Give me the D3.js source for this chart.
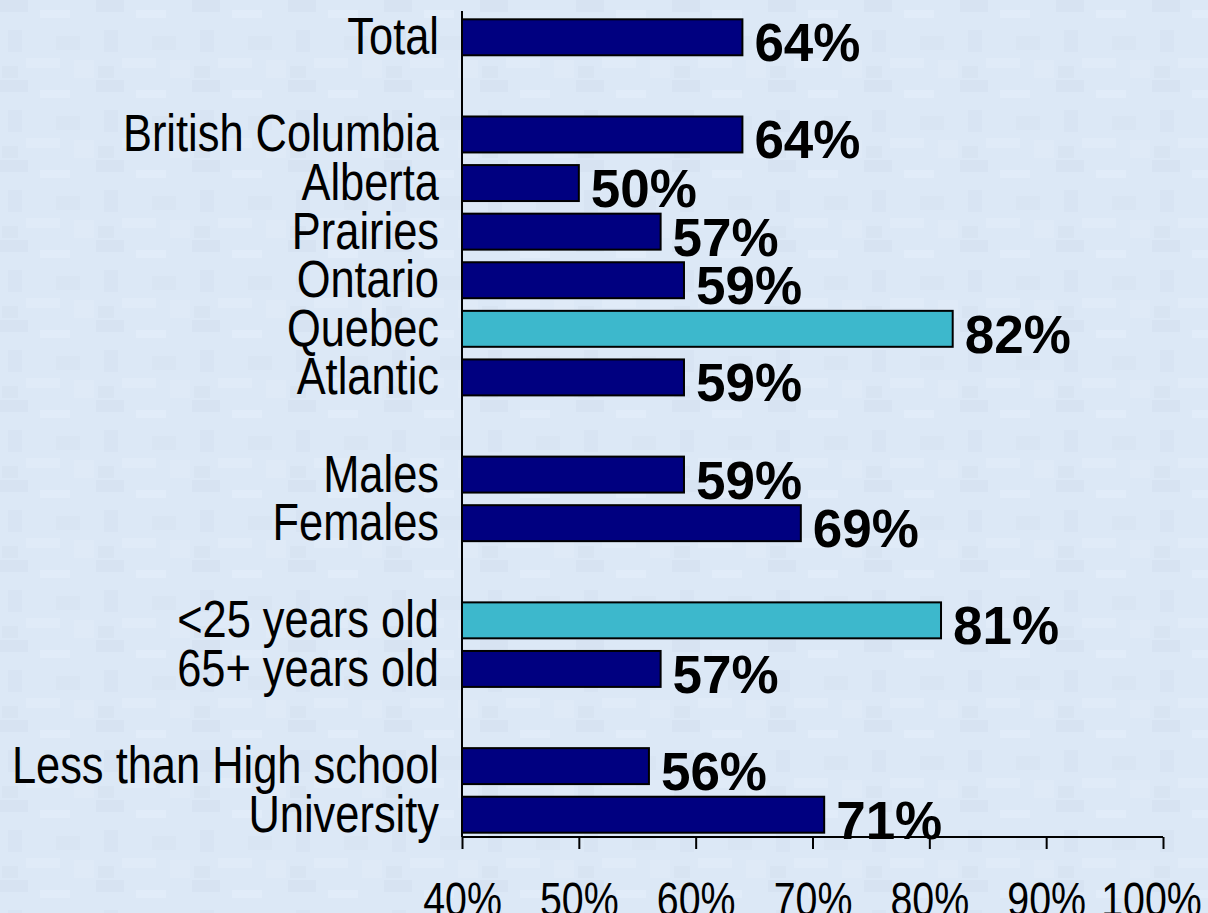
<!DOCTYPE html>
<html><head><meta charset="utf-8">
<script src="https://cdn.jsdelivr.net/npm/d3@7"></script>
<style>html,body{margin:0;padding:0;background:#dbe7f5;overflow:hidden}</style>
</head><body>
<svg id="c" width="1208" height="913"></svg>
<script>
const rows = ["Total","_b1","British Columbia","Alberta","Prairies","Ontario","Quebec","Atlantic","_b2","Males","Females","_b3","<25 years old","65+ years old","_b4","Less than High school","University"];
const categories = ["Total","British Columbia","Alberta","Prairies","Ontario","Quebec","Atlantic","Males","Females","<25 years old","65+ years old","Less than High school","University"];
const values = [64,64,50,57,59,82,59,59,69,81,57,56,71];
const highlight = ["Quebec","<25 years old"];
const tickValues = [40,50,60,70,80,90,100];

const svg = d3.select("#c");
const defs = svg.append("defs");
const pat = defs.append("pattern").attr("id","tex").attr("width",96).attr("height",80).attr("patternUnits","userSpaceOnUse");
pat.append("rect").attr("width",96).attr("height",80).attr("fill","#dce8f6");
[[0,0,28,12,"#d7e3f2"],[40,10,30,8,"#e1ecf9"],[8,30,14,22,"#d8e4f3"],[56,36,24,14,"#d9e5f3"],[26,58,34,10,"#e0ebf8"],[2,66,16,12,"#d8e4f2"],[74,60,20,18,"#dfeaf7"]].forEach(r=>
  pat.append("rect").attr("x",r[0]).attr("y",r[1]).attr("width",r[2]).attr("height",r[3]).attr("fill",r[4]));
svg.append("rect").attr("width",1208).attr("height",913).attr("fill","url(#tex)");

const x = d3.scaleLinear().domain([40,100]).range([462,1163]);
const y = d3.scaleBand().domain(rows).range([13,839]).paddingInner(0.26).paddingOuter(0.13);

const data = categories.map((c,i)=>({c, v: values[i]}));
const narrow = 0.835;

svg.selectAll("rect.bar").data(data).join("rect").attr("class","bar")
  .attr("x", x(40)).attr("y", d=>y(d.c))
  .attr("width", d=>x(d.v)-x(40)).attr("height", y.bandwidth())
  .attr("fill", d=>highlight.includes(d.c) ? "#3db8cc" : "#000080")
  .attr("stroke","#000").attr("stroke-width",2);

svg.selectAll("text.val").data(data).join("text").attr("class","val")
  .attr("x", d=>x(d.v)+12).attr("y", d=>y(d.c)+y.bandwidth()/2+24)
  .attr("font-family","'Liberation Sans', Arial, sans-serif").attr("font-weight","bold")
  .attr("font-size",53).attr("fill","#000").text(d=>d.v+"%");

svg.selectAll("text.cat").data(data).join("text").attr("class","cat")
  .attr("transform", d=>`translate(439,${y(d.c)+y.bandwidth()/2+17}) scale(${narrow},1)`)
  .attr("text-anchor","end")
  .attr("font-family","'Liberation Sans', Arial, sans-serif")
  .attr("font-size",52).attr("fill","#000").text(d=>d.c);

// axes
const axisY = 837;
svg.append("line").attr("x1",x(40)).attr("x2",x(40)).attr("y1",11).attr("y2",axisY).attr("stroke","#000").attr("stroke-width",2);
const ax = svg.append("g").attr("transform",`translate(0,${axisY})`)
  .call(d3.axisBottom(x).tickValues(tickValues).tickSize(12).tickSizeOuter(0).tickFormat(d=>d+"%"));
ax.select(".domain").attr("stroke","#000").attr("stroke-width",2).attr("d",`M${x(40)},0H${x(100)}`);
ax.selectAll(".tick line").attr("stroke","#000").attr("stroke-width",2);
ax.selectAll(".tick text").attr("font-family","'Liberation Sans', Arial, sans-serif")
  .attr("font-size",48).attr("fill","#000").attr("dy",0).attr("y",null)
  .attr("transform",d=>`translate(${d===100?-12:0},79) scale(0.82,1)`);
</script>
</body></html>
